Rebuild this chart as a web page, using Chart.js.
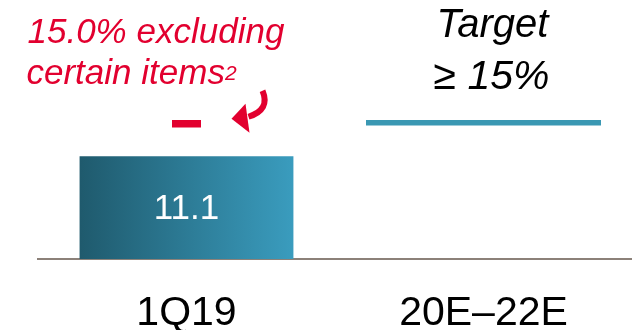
<!DOCTYPE html>
<html>
<head>
<meta charset="utf-8">
<script src="https://cdn.jsdelivr.net/npm/chart.js@4/dist/chart.umd.min.js"></script>
<style>
  html, body { margin: 0; padding: 0; background: #fff; }
  canvas { display: block; }
</style>
</head>
<body>
<canvas id="roe-chart" width="632" height="330"></canvas>
<script>
// periods and values
const periods = ['1Q19', '20E\u201322E'];
const reported = [11.1, null];
const exclItems = [15.0, null];
const target = [null, 15];

const RED = '#e2002f';
const TEAL = '#3a98b3';
const FONT = "'Liberation Sans', Arial, sans-serif";
const BAR_PCT = 0.72;

// left-to-right shading of the reported bar
function barGradient(c) {
  const chart = c.chart;
  const x = chart.scales.x;
  if (!chart.chartArea || !x) return '#2c7a96';
  const w = x.width / periods.length * BAR_PCT;
  const left = x.getPixelForValue(c.dataIndex) - w / 2;
  const g = chart.ctx.createLinearGradient(left, 0, left + w, 0);
  g.addColorStop(0, '#1f5a6d');
  g.addColorStop(1, '#3a9cbe');
  return g;
}

// labels and the little arrow are drawn by hand on the canvas
const extras = {
  id: 'extras',
  afterDraw(chart) {
    const ctx = chart.ctx;
    const top = chart.chartArea.top;
    ctx.save();

    // value inside the bar
    const bar = chart.getDatasetMeta(0).data[0];
    ctx.fillStyle = '#fff';
    ctx.font = '35px ' + FONT;
    ctx.textAlign = 'center';
    ctx.textBaseline = 'middle';
    ctx.fillText(reported[0].toFixed(1), bar.x, (bar.y + bar.base) / 2 + 2);

    // note above the 15.0 marker (dx, dy = middle of the red dash)
    const dash = chart.getDatasetMeta(1).data[0];
    const dx = dash.x, dy = dash.y + 3.5;
    ctx.fillStyle = RED;
    ctx.textAlign = 'left';
    ctx.textBaseline = 'alphabetic';
    ctx.font = 'italic 35px ' + FONT;
    ctx.fillText(exclItems[0].toFixed(1) + '% excluding', dx - 159, top + 43);
    const line2 = 'certain items';
    ctx.fillText(line2, dx - 160, top + 84);
    const w2 = ctx.measureText(line2).width;
    ctx.font = 'italic 21px ' + FONT;
    ctx.fillText('2', dx - 160 + w2, top + 80);

    // curved arrow pointing at the marker
    ctx.strokeStyle = RED;
    ctx.lineWidth = 6;
    ctx.beginPath();
    ctx.moveTo(dx + 62, dy - 7);
    ctx.quadraticCurveTo(dx + 84, dy - 14, dx + 76, dy - 33);
    ctx.stroke();
    ctx.beginPath();
    ctx.moveTo(dx + 45, dy - 5);
    ctx.lineTo(dx + 59, dy - 20);
    ctx.lineTo(dx + 63, dy + 9);
    ctx.closePath();
    ctx.fill();

    // target caption
    const t = chart.getDatasetMeta(2).data[1];
    ctx.fillStyle = '#000';
    ctx.textAlign = 'center';
    ctx.font = 'italic 40px ' + FONT;
    ctx.fillText('Target', t.x + 9, top + 37);
    ctx.font = 'italic 41px ' + FONT;
    ctx.fillText('\u2265 ' + target[1] + '%', t.x + 8, top + 89);

    ctx.restore();
  }
};

// the dash and the target line are bars with only their top edge painted
const topEdge = (color, px) => ({
  backgroundColor: 'rgba(0,0,0,0)',
  borderColor: color,
  borderWidth: { top: px, left: 0, right: 0, bottom: 0 },
  borderSkipped: false,
  grouped: false
});

new Chart(document.getElementById('roe-chart'), {
  type: 'bar',
  data: {
    labels: periods,
    datasets: [{
      data: reported,
      backgroundColor: barGradient,
      barPercentage: BAR_PCT,
      categoryPercentage: 1,
      grouped: false
    }, {
      data: exclItems,
      barThickness: 29,
      ...topEdge(RED, 7)
    }, {
      data: target,
      barThickness: 235,
      ...topEdge(TEAL, 5)
    }]
  },
  options: {
    responsive: false,
    animation: false,
    events: [],
    layout: { padding: { left: 38, right: 0, top: 0, bottom: 0 } },
    plugins: {
      legend: { display: false },
      tooltip: { enabled: false }
    },
    scales: {
      x: {
        grid: { display: false, drawTicks: false },
        border: { display: true, color: '#8c8179', width: 2 },
        ticks: {
          color: '#000',
          padding: 34,
          font: { family: FONT, size: 41, lineHeight: 1 }
        },
        afterFit: s => { s.height = 71; }
      },
      y: {
        display: false,
        min: 0,
        max: 28
      }
    }
  },
  plugins: [extras]
});
</script>
</body>
</html>
